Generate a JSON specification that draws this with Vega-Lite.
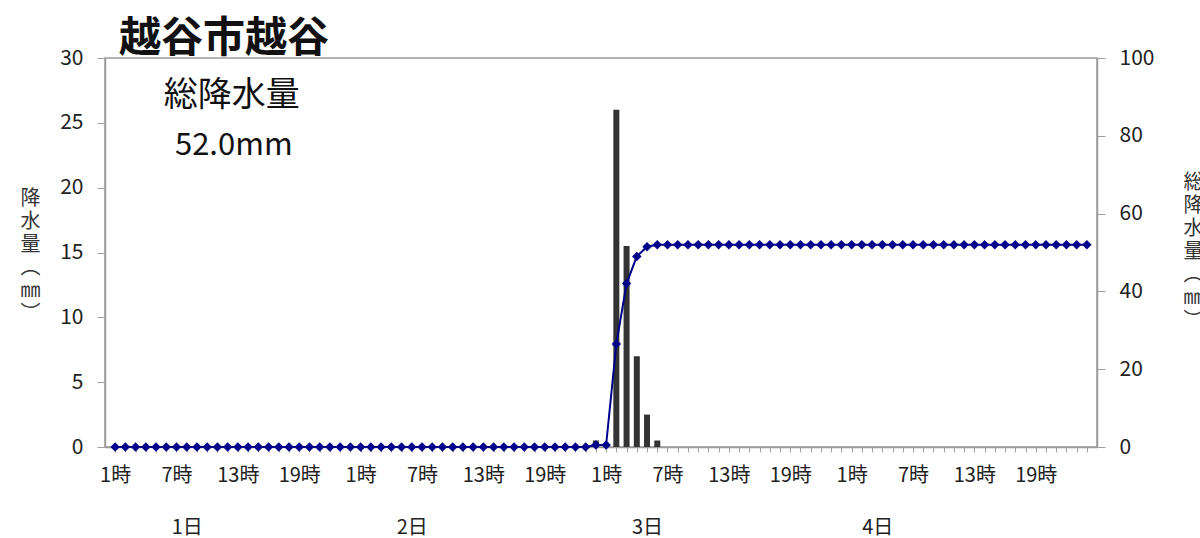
{
  "$schema": "https://vega.github.io/schema/vega-lite/v6.json",
  "width": 992,
  "height": 389,
  "autosize": {"type": "none"},
  "padding": {"left": 105, "top": 58, "right": 103, "bottom": 91},
  "background": "white",
  "config": {
    "font": "Noto Sans CJK JP",
    "view": {"stroke": "#9a9a9a", "strokeWidth": 1.5}
  },
  "title": {
    "text": "越谷市越谷",
    "anchor": "start",
    "frame": "group",
    "fontSize": 42,
    "fontWeight": "bold",
    "color": "#111111",
    "dx": 14,
    "dy": 16,
    "offset": 2
  },
  "datasets": {
    "hourly": [
      {"h": 1, "rain": 0, "cum": 0}, {"h": 2, "rain": 0, "cum": 0}, {"h": 3, "rain": 0, "cum": 0}, {"h": 4, "rain": 0, "cum": 0},
      {"h": 5, "rain": 0, "cum": 0}, {"h": 6, "rain": 0, "cum": 0}, {"h": 7, "rain": 0, "cum": 0}, {"h": 8, "rain": 0, "cum": 0},
      {"h": 9, "rain": 0, "cum": 0}, {"h": 10, "rain": 0, "cum": 0}, {"h": 11, "rain": 0, "cum": 0}, {"h": 12, "rain": 0, "cum": 0},
      {"h": 13, "rain": 0, "cum": 0}, {"h": 14, "rain": 0, "cum": 0}, {"h": 15, "rain": 0, "cum": 0}, {"h": 16, "rain": 0, "cum": 0},
      {"h": 17, "rain": 0, "cum": 0}, {"h": 18, "rain": 0, "cum": 0}, {"h": 19, "rain": 0, "cum": 0}, {"h": 20, "rain": 0, "cum": 0},
      {"h": 21, "rain": 0, "cum": 0}, {"h": 22, "rain": 0, "cum": 0}, {"h": 23, "rain": 0, "cum": 0}, {"h": 24, "rain": 0, "cum": 0},
      {"h": 25, "rain": 0, "cum": 0}, {"h": 26, "rain": 0, "cum": 0}, {"h": 27, "rain": 0, "cum": 0}, {"h": 28, "rain": 0, "cum": 0},
      {"h": 29, "rain": 0, "cum": 0}, {"h": 30, "rain": 0, "cum": 0}, {"h": 31, "rain": 0, "cum": 0}, {"h": 32, "rain": 0, "cum": 0},
      {"h": 33, "rain": 0, "cum": 0}, {"h": 34, "rain": 0, "cum": 0}, {"h": 35, "rain": 0, "cum": 0}, {"h": 36, "rain": 0, "cum": 0},
      {"h": 37, "rain": 0, "cum": 0}, {"h": 38, "rain": 0, "cum": 0}, {"h": 39, "rain": 0, "cum": 0}, {"h": 40, "rain": 0, "cum": 0},
      {"h": 41, "rain": 0, "cum": 0}, {"h": 42, "rain": 0, "cum": 0}, {"h": 43, "rain": 0, "cum": 0}, {"h": 44, "rain": 0, "cum": 0},
      {"h": 45, "rain": 0, "cum": 0}, {"h": 46, "rain": 0, "cum": 0}, {"h": 47, "rain": 0, "cum": 0}, {"h": 48, "rain": 0.5, "cum": 0.5},
      {"h": 49, "rain": 0, "cum": 0.5}, {"h": 50, "rain": 26, "cum": 26.5}, {"h": 51, "rain": 15.5, "cum": 42}, {"h": 52, "rain": 7, "cum": 49},
      {"h": 53, "rain": 2.5, "cum": 51.5}, {"h": 54, "rain": 0.5, "cum": 52}, {"h": 55, "rain": 0, "cum": 52}, {"h": 56, "rain": 0, "cum": 52},
      {"h": 57, "rain": 0, "cum": 52}, {"h": 58, "rain": 0, "cum": 52}, {"h": 59, "rain": 0, "cum": 52}, {"h": 60, "rain": 0, "cum": 52},
      {"h": 61, "rain": 0, "cum": 52}, {"h": 62, "rain": 0, "cum": 52}, {"h": 63, "rain": 0, "cum": 52}, {"h": 64, "rain": 0, "cum": 52},
      {"h": 65, "rain": 0, "cum": 52}, {"h": 66, "rain": 0, "cum": 52}, {"h": 67, "rain": 0, "cum": 52}, {"h": 68, "rain": 0, "cum": 52},
      {"h": 69, "rain": 0, "cum": 52}, {"h": 70, "rain": 0, "cum": 52}, {"h": 71, "rain": 0, "cum": 52}, {"h": 72, "rain": 0, "cum": 52},
      {"h": 73, "rain": 0, "cum": 52}, {"h": 74, "rain": 0, "cum": 52}, {"h": 75, "rain": 0, "cum": 52}, {"h": 76, "rain": 0, "cum": 52},
      {"h": 77, "rain": 0, "cum": 52}, {"h": 78, "rain": 0, "cum": 52}, {"h": 79, "rain": 0, "cum": 52}, {"h": 80, "rain": 0, "cum": 52},
      {"h": 81, "rain": 0, "cum": 52}, {"h": 82, "rain": 0, "cum": 52}, {"h": 83, "rain": 0, "cum": 52}, {"h": 84, "rain": 0, "cum": 52},
      {"h": 85, "rain": 0, "cum": 52}, {"h": 86, "rain": 0, "cum": 52}, {"h": 87, "rain": 0, "cum": 52}, {"h": 88, "rain": 0, "cum": 52},
      {"h": 89, "rain": 0, "cum": 52}, {"h": 90, "rain": 0, "cum": 52}, {"h": 91, "rain": 0, "cum": 52}, {"h": 92, "rain": 0, "cum": 52},
      {"h": 93, "rain": 0, "cum": 52}, {"h": 94, "rain": 0, "cum": 52}, {"h": 95, "rain": 0, "cum": 52}, {"h": 96, "rain": 0, "cum": 52}
    ]
  },
  "layer": [
    {
      "data": {"name": "hourly"},
      "mark": {"type": "bar", "size": 6, "color": "#333333"},
      "encoding": {
        "x": {
          "field": "h", "type": "quantitative",
          "scale": {"domain": [0.5, 96.5], "nice": false, "zero": false},
          "axis": {
            "orient": "bottom",
            "title": null,
            "values": [1,2,3,4,5,6,7,8,9,10,11,12,13,14,15,16,17,18,19,20,21,22,23,24,25,26,27,28,29,30,31,32,33,34,35,36,37,38,39,40,41,42,43,44,45,46,47,48,49,50,51,52,53,54,55,56,57,58,59,60,61,62,63,64,65,66,67,68,69,70,71,72,73,74,75,76,77,78,79,80,81,82,83,84,85,86,87,88,89,90,91,92,93,94,95,96],
            "labelExpr": "(datum.value - 1) % 6 == 0 ? ((datum.value - 1) % 24 + 1) + '時' : ''",
            "labelOverlap": false,
            "labelFlush": false,
            "labelFontSize": 20,
            "labelColor": "#222222",
            "labelPadding": 13,
            "tickSize": 5,
            "tickColor": "#a0a0a0",
            "domainColor": "#9a9a9a",
            "domainWidth": 1.5,
            "grid": false
          }
        },
        "y": {
          "field": "rain", "type": "quantitative",
          "scale": {"domain": [0, 30], "nice": false},
          "axis": {
            "orient": "left",
            "values": [0, 5, 10, 15, 20, 25, 30],
            "title": ["降", "水", "量", "︵", "㎜", "︶"],
            "titleAngle": 0,
            "titleAlign": "center",
            "titleBaseline": "top",
            "titleX": -75,
            "titleY": 130,
            "titleFontSize": 20,
            "titleFontWeight": "normal",
            "titleLineHeight": 23,
            "titleColor": "#333333",
            "labelFontSize": 21,
            "labelColor": "#222222",
            "labelPadding": 14,
            "tickSize": 8,
            "tickColor": "#a0a0a0",
            "domainColor": "#9a9a9a",
            "domainWidth": 1.5,
            "grid": false
          }
        }
      }
    },
    {
      "data": {"name": "hourly"},
      "mark": {"type": "line", "color": "#00008B", "strokeWidth": 2},
      "encoding": {
        "x": {
          "field": "h", "type": "quantitative",
          "scale": {"domain": [0.5, 96.5], "nice": false, "zero": false},
          "axis": {
            "orient": "bottom",
            "title": null,
            "values": [8, 30, 53, 75.5],
            "labelExpr": "(floor((datum.value - 1) / 24) + 1) + '日'",
            "labelOverlap": false,
            "labelFlush": false,
            "labelFontSize": 20,
            "labelColor": "#222222",
            "labelPadding": 70,
            "ticks": false,
            "tickSize": 0,
            "domain": false,
            "grid": false
          }
        },
        "y": {
          "field": "cum", "type": "quantitative",
          "scale": {"domain": [0, 100], "nice": false},
          "axis": {
            "orient": "right",
            "values": [0, 20, 40, 60, 80, 100],
            "title": ["総", "降", "水", "量", "︵", "㎜", "︶"],
            "titleAngle": 0,
            "titleAlign": "center",
            "titleBaseline": "top",
            "titleX": 96,
            "titleY": 114,
            "titleFontSize": 20,
            "titleFontWeight": "normal",
            "titleLineHeight": 23,
            "titleColor": "#333333",
            "labelFontSize": 21,
            "labelColor": "#222222",
            "labelPadding": 14,
            "tickSize": 8,
            "tickColor": "#a0a0a0",
            "domainColor": "#9a9a9a",
            "domainWidth": 1.5,
            "grid": false
          }
        }
      }
    },
    {
      "data": {"name": "hourly"},
      "mark": {"type": "point", "shape": "diamond", "filled": true, "size": 90, "color": "#00008B", "opacity": 1},
      "encoding": {
        "x": {"field": "h", "type": "quantitative", "scale": {"domain": [0.5, 96.5], "nice": false, "zero": false}, "axis": null},
        "y": {"field": "cum", "type": "quantitative", "scale": {"domain": [0, 100], "nice": false}, "axis": null}
      }
    },
    {
      "data": {"values": [{"label": "総降水量", "x": 12.4, "y": 27.1}]},
      "mark": {"type": "text", "fontSize": 34, "color": "#111111", "baseline": "middle", "align": "center"},
      "encoding": {
        "x": {"field": "x", "type": "quantitative", "scale": {"domain": [0.5, 96.5], "nice": false, "zero": false}, "axis": null},
        "y": {"field": "y", "type": "quantitative", "scale": {"domain": [0, 30], "nice": false}, "axis": null},
        "text": {"field": "label"}
      }
    },
    {
      "data": {"values": [{"label": "52.0mm", "x": 12.6, "y": 23.2}]},
      "mark": {"type": "text", "fontSize": 31, "color": "#111111", "baseline": "middle", "align": "center"},
      "encoding": {
        "x": {"field": "x", "type": "quantitative", "scale": {"domain": [0.5, 96.5], "nice": false, "zero": false}, "axis": null},
        "y": {"field": "y", "type": "quantitative", "scale": {"domain": [0, 30], "nice": false}, "axis": null},
        "text": {"field": "label"}
      }
    }
  ],
  "resolve": {
    "scale": {"y": "independent"},
    "axis": {"x": "independent", "y": "independent"}
  }
}
